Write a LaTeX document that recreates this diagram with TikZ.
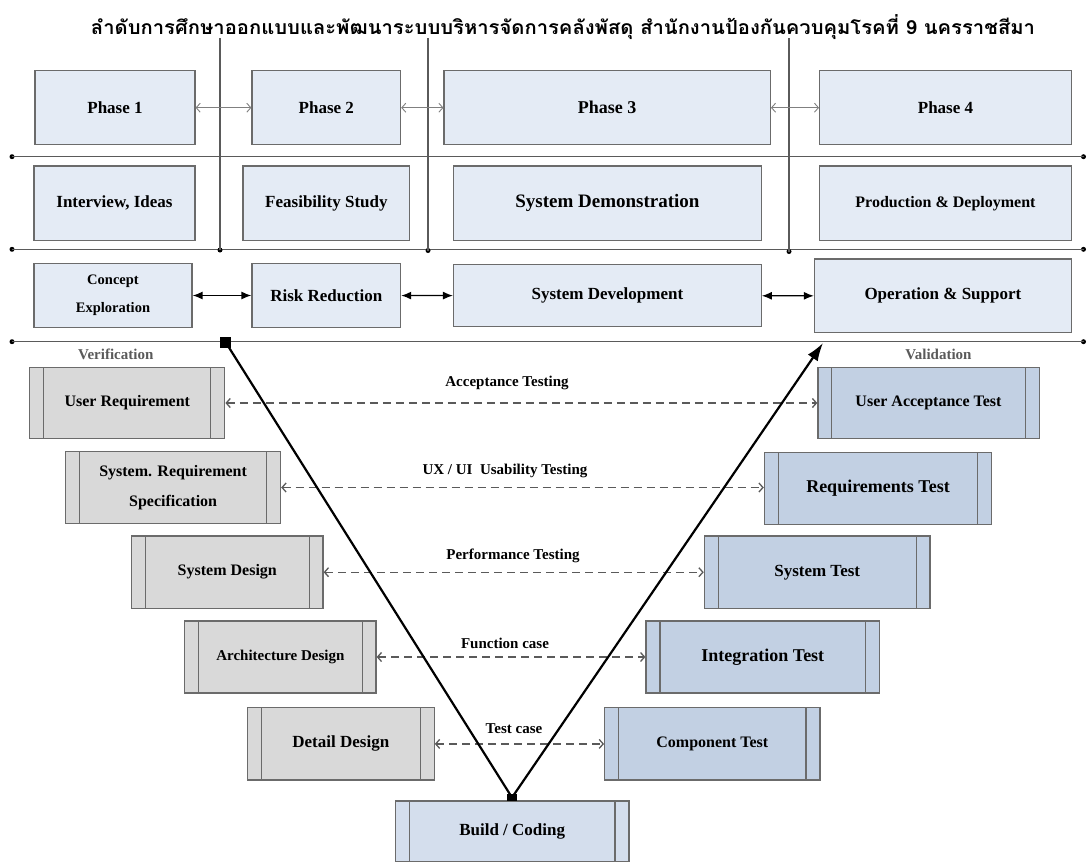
\documentclass[tikz,border=0pt]{standalone}
\usepackage{graphicx}
\usepackage{fontspec}
\setmainfont{Liberation Serif}
\newfontfamily\thaifont[Script=Thai]{Loma}
\usetikzlibrary{arrows.meta}
\definecolor{topfill}{HTML}{E4EBF5}
\definecolor{leftfill}{HTML}{D9D9D9}
\definecolor{rightfill}{HTML}{C2D0E3}
\definecolor{buildfill}{HTML}{D4DEED}
\definecolor{edge}{HTML}{6B6B6B}
\definecolor{linegray}{HTML}{5A5A5A}
\newcommand{\fs}[1]{\fontsize{#1}{#1}\selectfont}
\newcommand{\fsl}[2]{\fontsize{#1}{#2}\selectfont}
\begin{document}
\begin{tikzpicture}[x=1pt,y=-1pt,
 every node/.style={font=\bfseries},
 box/.style={draw=edge, line width=1.2pt, inner sep=0pt, align=center, font=\bfseries\fs{17}},
 topbox/.style={box, fill=topfill},
 proc/.style={box, path picture={\draw[edge, line width=1.1pt]
   ([xshift=14pt]path picture bounding box.north west) -- ([xshift=14pt]path picture bounding box.south west)
   ([xshift=-14pt]path picture bounding box.north east) -- ([xshift=-14pt]path picture bounding box.south east);}},
 verif/.style={proc, fill=leftfill},
 valid/.style={proc, fill=rightfill},
 buildbox/.style={proc, fill=buildfill},
 grid/.style={linegray, line width=1.1pt},
 dot/.style={circle, fill=black, inner sep=0pt, minimum size=5pt},
 phasearrow/.style={<->, gray, line width=0.9pt, >={Straight Barb[length=4pt,width=9pt]}},
 blkarrow/.style={{Latex[length=10pt,width=8pt]}-{Latex[length=10pt,width=8pt]}, black, line width=1.3pt},
 testarrow/.style={<->, >={Straight Barb[length=4pt,width=9pt]}, linegray, line width=1.3pt, dash pattern=on 8pt off 5pt},
 lbl/.style={font=\bfseries\fs{15}},
 side/.style={text=linegray, font=\bfseries\fs{15}},
 vline/.style={black, line width=2.2pt},
 sqr/.style={fill=black, inner sep=0pt, minimum width=11pt, minimum height=11pt}
]
\useasboundingbox (0,0) rectangle (1088,863);

% title
\node[inner sep=0pt] (title) at (563,27) {\resizebox*{944pt}{25pt}{\thaifont\bfseries ลำดับการศึกษาออกแบบและพัฒนาระบบบริหารจัดการคลังพัสดุ สำนักงานป้องกันควบคุมโรคที่ 9 นครราชสีมา}};

% grid lines
\node[dot] (h1l) at (12,156.7) {};
\node[dot] (h1r) at (1083.5,156.7) {};
\node[dot] (h2l) at (12,249.3) {};
\node[dot] (h2r) at (1083.5,249.3) {};
\node[dot] (h3l) at (12,341.7) {};
\node[dot] (h3r) at (1083.5,341.7) {};
\draw[grid] (h1l.center) -- (h1r.center);
\draw[grid] (h2l.center) -- (h2r.center);
\draw[grid] (h3l.center) -- (h3r.center);
\coordinate (v1t) at (220,38);
\coordinate (v2t) at (428,38);
\coordinate (v3t) at (789,38);
\node[dot] (v1b) at (220,250) {};
\node[dot] (v2b) at (428,250.5) {};
\node[dot] (v3b) at (789,251.5) {};
\draw[grid] (v1t) -- (v1b.center);
\draw[grid] (v2t) -- (v2b.center);
\draw[grid] (v3t) -- (v3b.center);

% row 1
\node[topbox, minimum width=160pt, minimum height=74pt] (p1) at (115,107.7) {Phase 1};
\node[topbox, minimum width=148.6pt, minimum height=74pt] (p2) at (326.3,107.7) {Phase 2};
\node[topbox, minimum width=326.3pt, minimum height=74pt, font=\bfseries\fs{18}] (p3) at (607.2,107.7) {Phase 3};
\node[topbox, minimum width=251.7pt, minimum height=74pt] (p4) at (945.5,107.7) {Phase 4};
\draw[phasearrow] (p1) -- (p2);
\draw[phasearrow] (p2) -- (p3);
\draw[phasearrow] (p3) -- (p4);

% row 2
\node[topbox, minimum width=161pt, minimum height=74.3pt] (ii) at (114.5,203.2) {Interview, Ideas};
\node[topbox, minimum width=166.7pt, minimum height=74.3pt] (fs) at (326.4,203.2) {Feasibility Study};
\node[topbox, minimum width=307.7pt, minimum height=74.3pt, font=\bfseries\fs{19}] (sdm) at (607.4,203.2) {System Demonstration};
\node[topbox, minimum width=251.7pt, minimum height=74.3pt, font=\bfseries\fs{16}] (pd) at (945.5,203.2) {Production \& Deployment};

% row 3
\node[topbox, minimum width=158pt, minimum height=64.4pt, font=\bfseries\fsl{14.5}{28}] (ce) at (113,295.5) {Concept\\Exploration};
\node[topbox, minimum width=148.6pt, minimum height=64.4pt] (rr) at (326.3,295.5) {Risk Reduction};
\node[topbox, minimum width=307.7pt, minimum height=62pt] (sdv) at (607.4,295.7) {System Development};
\node[topbox, minimum width=256.9pt, minimum height=73.7pt] (os) at (942.9,295.9) {Operation \& Support};
\draw[blkarrow] (ce) -- (rr);
\draw[blkarrow] (rr) -- (sdv);
\draw[blkarrow] (sdv) -- (os);

% side labels
\node[side] (verif) at (115.7,354.5) {Verification};
\node[side] (valid) at (938.5,354.5) {Validation};

% left column
\node[verif, minimum width=195pt, minimum height=70.6pt, font=\bfseries\fs{16}] (ur) at (127.3,403) {User Requirement};
\node[verif, minimum width=215pt, minimum height=71.6pt, font=\bfseries\fsl{16}{30}] (srs) at (173.1,487.5) {System. Requirement\\Specification};
\node[verif, minimum width=191.5pt, minimum height=72.3pt, font=\bfseries\fs{16}] (sd) at (227.3,572.2) {System Design};
\node[verif, minimum width=191.3pt, minimum height=72pt, font=\bfseries\fs{15}] (ad) at (280.4,657) {Architecture Design};
\node[verif, minimum width=186.8pt, minimum height=72.3pt] (dd) at (340.8,743.9) {Detail Design};

% right column
\node[valid, minimum width=221.2pt, minimum height=70.6pt, font=\bfseries\fs{16}] (uat) at (928.5,403) {User Acceptance Test};
\node[valid, minimum width=227.2pt, minimum height=72pt, font=\bfseries\fs{18}] (rt) at (878,488.3) {Requirements Test};
\node[valid, minimum width=225.7pt, minimum height=72.7pt] (st) at (817.2,572.4) {System Test};
\node[valid, minimum width=233.6pt, minimum height=72pt, font=\bfseries\fs{18}] (it) at (762.8,657) {Integration Test};
\node[valid, minimum width=215.3pt, minimum height=72.3pt, font=\bfseries\fs{16}] (ct) at (712.3,743.9) {Component Test};

% build
\node[buildbox, minimum width=233.6pt, minimum height=60.7pt] (bc) at (512.2,831.4) {Build / Coding};

% test arrows
\draw[testarrow] (ur.east) -- (uat.west);
\draw[testarrow] (srs.east) -- (rt.west |- srs.east);
\draw[testarrow] (sd.east) -- (st.west |- sd.east);
\draw[testarrow] (ad.east) -- (it.west);
\draw[testarrow] (dd.east) -- (ct.west);
\node[lbl] (l1) at (507,383) {Acceptance Testing};
\node[lbl] (l2) at (505,471) {UX / UI\ \ Usability Testing};
\node[lbl] (l3) at (513,556) {Performance Testing};
\node[lbl] (l4) at (505,643) {Function case};
\node[lbl] (l5) at (514,729) {Test case};

% V
\node[sqr] (vtop) at (225.5,342) {};
\node[fill=black, inner sep=0pt, minimum width=10pt, minimum height=7pt] (vbot) at (512,797.5) {};
\coordinate (vtip) at (823,343);
\draw[vline] (vtop.center) -- (vbot.center);
\draw[vline, -{Latex[length=18pt,width=12pt]}] (vbot.center) -- (vtip);
\end{tikzpicture}
\end{document}
